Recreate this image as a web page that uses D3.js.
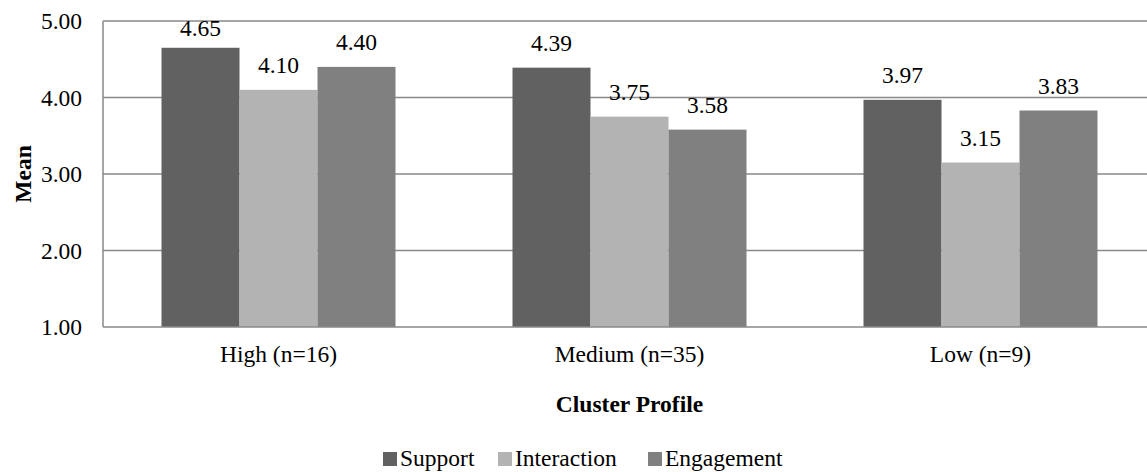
<!DOCTYPE html>
<html>
<head>
<meta charset="utf-8">
<script src="https://cdn.jsdelivr.net/npm/d3@7"></script>
<style>
  html, body { margin: 0; padding: 0; background: #fff; }
</style>
</head>
<body>
<svg id="chart" width="1147" height="472"></svg>
<script>
// Cluster profiles and their mean scores per dimension
const categories = ["High (n=16)", "Medium (n=35)", "Low (n=9)"];
const seriesNames = ["Support", "Interaction", "Engagement"];
const support = [4.65, 4.39, 3.97];
const interaction = [4.10, 3.75, 3.15];
const engagement = [4.40, 3.58, 3.83];
const yTicks = [1, 2, 3, 4, 5];
const colors = ["#616161", "#b3b3b3", "#808080"];

const seriesValues = [support, interaction, engagement];

const svg = d3.select("#chart");
const W = 1147, H = 472;
const plot = { left: 103, top: 21, right: 1156, bottom: 327 };
const serif = '"Liberation Serif", "Times New Roman", serif';
const fs = "23.5px";

const x = d3.scaleBand().domain(categories).range([plot.left, plot.right]).padding(0);
const xs = d3.scaleBand().domain(seriesNames).range([0, x.bandwidth()])
  .paddingInner(0).paddingOuter(0.75);
const y = d3.scaleLinear().domain([1, 5]).range([plot.bottom, plot.top]);

const gridColor = "#898989";

// horizontal gridlines
svg.append("g").selectAll("line")
  .data(yTicks.filter(t => t > 1))
  .join("line")
  .attr("x1", plot.left).attr("x2", W)
  .attr("y1", d => y(d)).attr("y2", d => y(d))
  .attr("stroke", gridColor).attr("stroke-width", 1.5);

// y axis
const yAxis = d3.axisLeft(y).tickValues(yTicks).tickSize(0).tickPadding(21)
  .tickFormat(d3.format(".2f"));
const gy = svg.append("g").attr("transform", `translate(${plot.left},0)`).call(yAxis)
  .attr("font-family", null).attr("font-size", null);
gy.select(".domain").remove();
gy.selectAll("text").style("font-family", serif).style("font-size", fs)
  .attr("fill", "#000").attr("dy", "0.33em");

// bars
const groups = svg.append("g").selectAll("g")
  .data(categories)
  .join("g")
  .attr("transform", d => `translate(${x(d)},0)`);

const barData = (c, ci) => seriesNames.map((s, si) => ({ s, si, v: seriesValues[si][ci] }));

groups.each(function (c, ci) {
  const g = d3.select(this);
  const data = barData(c, ci);
  g.selectAll("rect").data(data).join("rect")
    .attr("x", d => xs(d.s))
    .attr("width", xs.bandwidth())
    .attr("y", d => y(d.v))
    .attr("height", d => y(1) - y(d.v))
    .attr("fill", d => colors[d.si]);
  // value labels, kept inside the plot area
  g.selectAll("text").data(data).join("text")
    .attr("x", d => xs(d.s) + xs.bandwidth() / 2)
    .attr("y", d => Math.max(y(d.v) - 17, plot.top + 15))
    .attr("text-anchor", "middle")
    .attr("fill", "#000")
    .style("font-family", serif).style("font-size", fs)
    .text(d => d.v.toFixed(2));
});

// axis lines
svg.append("line")
  .attr("x1", plot.left).attr("x2", plot.left)
  .attr("y1", plot.top).attr("y2", plot.bottom)
  .attr("stroke", gridColor).attr("stroke-width", 1.5);
svg.append("line")
  .attr("x1", plot.left).attr("x2", W)
  .attr("y1", plot.bottom).attr("y2", plot.bottom)
  .attr("stroke", gridColor).attr("stroke-width", 1.5);

// category labels
const xAxis = d3.axisBottom(x).tickSize(0).tickPadding(0);
const gx = svg.append("g").attr("transform", `translate(0,${plot.bottom})`).call(xAxis)
  .attr("font-family", null).attr("font-size", null);
gx.select(".domain").remove();
gx.selectAll("text").style("font-family", serif).style("font-size", fs)
  .attr("fill", "#000").attr("dy", null).attr("y", 35);

// axis titles
svg.append("text")
  .attr("x", x("Medium (n=35)") + x.bandwidth() / 2).attr("y", 412)
  .attr("text-anchor", "middle").attr("fill", "#000")
  .style("font-family", serif).style("font-size", fs).style("font-weight", "bold")
  .text("Cluster Profile");
svg.append("text")
  .attr("transform", `translate(31,${(plot.top + plot.bottom) / 2}) rotate(-90)`)
  .attr("text-anchor", "middle").attr("fill", "#000")
  .style("font-family", serif).style("font-size", fs).style("font-weight", "bold")
  .text("Mean");

// legend
const legendX = [383, 498, 648];
const legend = svg.append("g").selectAll("g").data(seriesNames).join("g")
  .attr("transform", (d, i) => `translate(${legendX[i]},0)`);
legend.append("rect").attr("y", 452).attr("width", 14).attr("height", 14)
  .attr("fill", (d, i) => colors[i]);
legend.append("text").attr("x", 17).attr("y", 466).attr("fill", "#000")
  .style("font-family", serif).style("font-size", fs).text(d => d);
</script>
</body>
</html>
